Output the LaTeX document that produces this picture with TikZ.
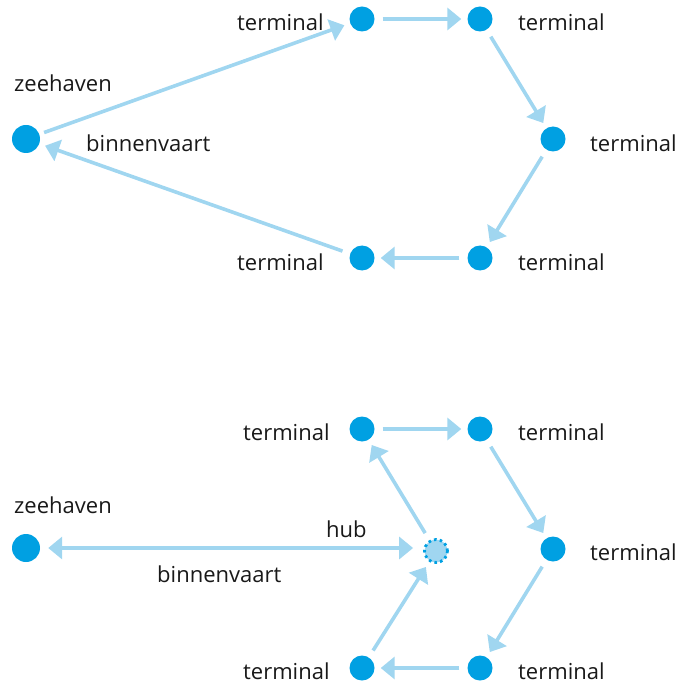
\documentclass[tikz,border=0pt]{standalone}
\usepackage{fontspec}
\setmainfont{Open Sans}
\usetikzlibrary{arrows.meta}
\definecolor{dotblue}{RGB}{0,160,226}
\definecolor{arrblue}{RGB}{160,214,240}
\begin{document}
\begin{tikzpicture}[x=1pt,y=-1pt,
  dot/.style={circle,fill=dotblue,minimum size=25pt,inner sep=0pt},
  bigdot/.style={circle,fill=dotblue,minimum size=28pt,inner sep=0pt},
  hubdot/.style={circle,fill=arrblue,draw=dotblue,line width=2.8pt,dash pattern=on 2.6pt off 3.2pt,minimum size=23pt,inner sep=0pt},
  lbl/.style={anchor=base west,inner sep=0pt,font=\fontsize{22}{26}\selectfont,text=black!90},
  arr/.style={draw=arrblue,line width=3.6pt,-{Triangle[length=14pt,width=22pt]},shorten <=8pt,shorten >=6pt},
  darr/.style={draw=arrblue,line width=3.6pt,{Triangle[length=14pt,width=22pt]}-{Triangle[length=14pt,width=22pt]},shorten <=8pt,shorten >=10pt}]
\useasboundingbox (0,0) rectangle (678,684);
% top diagram
\node[bigdot] (z1) at (26,139) {};
\node[dot] (a1) at (362,19) {};
\node[dot] (b1) at (480,19) {};
\node[dot] (c1) at (553,139) {};
\node[dot] (d1) at (480,258) {};
\node[dot] (e1) at (362,258) {};
\node[lbl] (la1) at (237,31) {terminal};
\node[lbl] (lb1) at (518,31) {terminal};
\node[lbl] (lc1) at (590,152) {terminal};
\node[lbl] (ld1) at (518,270) {terminal};
\node[lbl] (le1) at (237,270) {terminal};
\node[lbl] (lz1) at (14,92) {zeehaven};
\node[lbl] (lv1) at (86,152) {binnenvaart};
\draw[arr,shorten <=5pt] (z1) -- (a1);
\draw[arr] (a1) -- (b1);
\draw[arr] (b1) -- (c1);
\draw[arr] (c1) -- (d1);
\draw[arr] (d1) -- (e1);
\draw[arr] (e1) -- (z1);
% bottom diagram
\node[bigdot] (z2) at (26,548) {};
\node[dot] (a2) at (362,429) {};
\node[dot] (b2) at (480,429) {};
\node[dot] (c2) at (553,549) {};
\node[dot] (d2) at (480,668) {};
\node[dot] (e2) at (362,668) {};
\node[hubdot] (h2) at (436,551) {};
\node[lbl] (la2) at (243,440) {terminal};
\node[lbl] (lb2) at (518,440) {terminal};
\node[lbl] (lc2) at (590,560) {terminal};
\node[lbl] (ld2) at (518,679) {terminal};
\node[lbl] (le2) at (243,679) {terminal};
\node[lbl] (lz2) at (14,513) {zeehaven};
\node[lbl] (lh2) at (326,537) {hub};
\node[lbl] (lv2) at (157,582) {binnenvaart};
\draw[darr] (z2.east |- 0,548) coordinate (zz) (zz) -- (h2.west |- 0,548);
\draw[arr] (h2) -- (a2);
\draw[arr] (a2) -- (b2);
\draw[arr] (b2) -- (c2);
\draw[arr] (c2) -- (d2);
\draw[arr] (d2) -- (e2);
\draw[arr] (e2) -- (h2);
\end{tikzpicture}
\end{document}
